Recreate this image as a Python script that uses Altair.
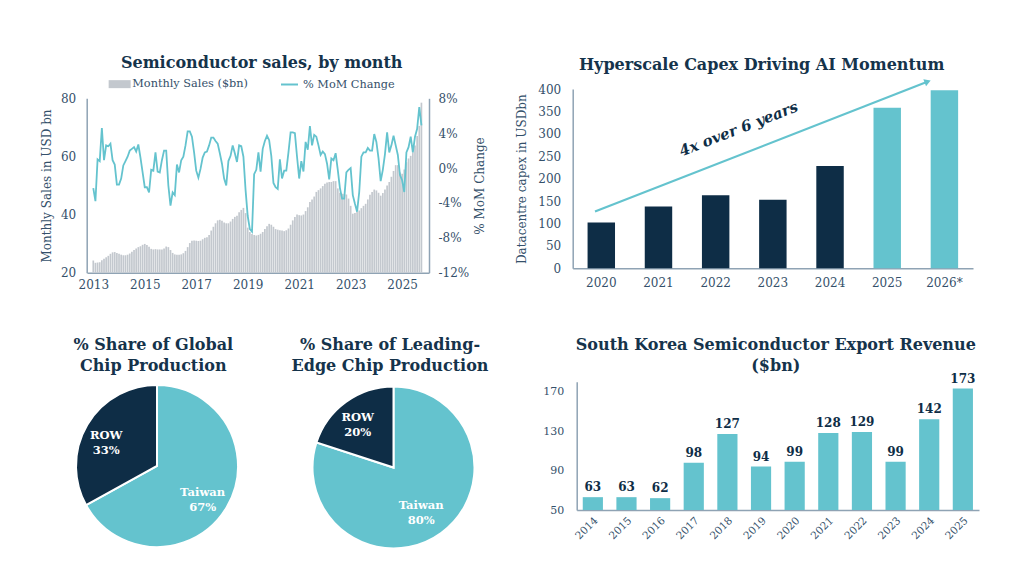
import altair as alt
import pandas as pd

# ---------------- data ----------------
monthly_sales = [
    24.2, 23.4, 23.5, 23.6, 24.3, 24.8, 25.3, 25.8, 26.5, 27.0,
    27.1, 26.8, 26.5, 26.2, 26.0, 26.0, 26.2, 26.6, 27.2, 27.8,
    28.3, 28.8, 29.1, 29.6, 29.9, 29.5, 28.9, 28.2, 28.0, 28.1,
    28.0, 28.0, 28.0, 28.3, 29.0, 28.8, 27.8, 26.8, 26.3, 26.2,
    26.2, 26.3, 26.7, 27.5, 28.8, 30.2, 31.0, 31.1, 31.0, 30.9,
    31.0, 31.5, 32.0, 32.2,
    33.0, 34.5, 35.8, 37.0, 38.0, 38.2, 37.9, 37.3, 37.0, 37.0,
    37.6, 38.5, 39.2, 39.6, 40.8, 41.6, 42.3, 40.5, 35.5, 34.0,
    33.3, 33.0, 32.8, 33.0, 33.4, 34.0, 35.0, 36.0, 36.8, 36.5,
    35.8, 35.0, 34.8, 34.6, 34.5, 34.3, 34.6, 35.2, 36.5, 38.0,
    39.2, 40.0, 39.8, 39.7, 40.0, 41.2, 42.5, 44.3, 45.2, 46.2,
    47.8, 48.4, 49.0, 49.8, 50.6, 51.0, 51.2, 51.2, 51.5, 51.5,
    49.0, 47.5, 47.2, 47.1, 46.9, 45.5, 43.0, 40.3, 40.5, 40.9,
    41.4, 42.2, 43.0, 43.7, 45.2, 46.8, 47.8, 48.6, 48.3, 47.5,
    46.5, 47.4, 48.6, 50.0, 51.2, 53.0, 55.0, 57.0, 57.0, 54.5,
    54.0, 55.5, 58.0, 59.3, 60.2, 61.4, 63.8, 67.0, 70.5, 78.5,
]
mom_change_pct = [
    -2.3, -3.8, 1.0, 0.8, 4.6, 0.9, 2.6, 2.5, 2.8, 0.9,
    0.4, -1.9, -1.9, -1.2, 0.3, 0.8, 1.3, 2.0, 2.2, 2.4,
    1.9, 2.7, 1.2, -0.5, -2.2, -2.2, -2.8, -0.2, -0.3, 1.8,
    -0.4, -0.5, 0.9, 2.0, 2.0, -2.0, -4.3, -2.8, -3.1, 0.4,
    -0.5, 0.9, 1.3, 2.6, 4.2, 4.2, 3.6, 1.8, -0.3, -1.1,
    -0.1, 1.2, 1.8, 1.9,
    2.6, 3.5, 3.5, 3.1, 2.8, 1.7, 0.5, -1.2, -2.0, 0.8,
    1.4, 2.6, 1.7, 0.7, 2.6, 2.5, 1.3, -2.5, -5.5, -7.0,
    -7.3, -0.7, -0.2, 1.8, -0.4, 2.2, 3.1, 3.7, 3.2, 1.4,
    -1.7, -2.2, -2.4, 1.0, -1.2, -0.3, -0.3, 1.8, 4.1, 4.1,
    4.0, 1.3, -1.2, 0.8, -0.4, 3.0, 2.1, 4.8, 2.6, 3.8,
    3.6, 2.6, 1.5, 1.9, 1.6, 0.5, -1.3, 1.1, 0.9, 1.7,
    -0.2, -2.3, -3.5, -3.5, -0.5, -0.2, 0.0, -3.1, -4.1, -5.0,
    -2.75, 1.3, 1.8, 1.8, 2.3, 2.0, 2.0, 3.9, 3.0, 1.1,
    -1.5, -0.2, 1.6, 4.1, 1.8, 2.6, 3.7, 2.6, 1.5, -0.8,
    -1.4, -2.75, 1.8, 2.4, 3.6, 1.8, 3.6, 4.5, 7.0, 4.9,
]
first_year = 2013
year_ticks = [2013, 2015, 2017, 2019, 2021, 2023, 2025]

capex_years = ["2020", "2021", "2022", "2023", "2024", "2025", "2026*"]
capex_usd_bn = [102, 138, 163, 153, 228, 358, 397]
capex_phase = ["Actual", "Actual", "Actual", "Actual", "Actual", "Estimate", "Estimate"]
capex_ticks = [0, 50, 100, 150, 200, 250, 300, 350, 400]
# trend arrow annotation (band index units, USDbn)
arrow_from = [0.39, 126.5]
arrow_to = [6.19, 415.6]
arrow_label = "4x over 6 years"
arrow_label_at = [2.9, 311]

pie_regions = ["Taiwan", "ROW"]
global_share = [67, 33]
leading_edge_share = [80, 20]

korea_years = [str(y) for y in range(2014, 2026)]
korea_export_bn = [63, 63, 62, 98, 127, 94, 99, 128, 129, 99, 142, 173]
korea_ticks = [50, 90, 130, 170]

# ---------------- style ----------------
FONT = "DejaVu Serif"
NAVY = "#0e2d46"
TEAL = "#64c3ce"
GRAY = "#c3c8ce"
TITLE = "#15334b"
LBL = "#34506a"
AXC = "#8fa3b4"

W, H = 1008, 560
M = 8  # page margin


def px(x):
    return x - M


def py(y):
    return y - M


def ax(**kw):
    base = dict(domainColor=AXC, domainWidth=1.5, ticks=False, grid=False,
                labelFont=FONT, labelColor=LBL, labelFontSize=12,
                titleFont=FONT, titleColor=LBL, titleFontSize=12,
                titleFontWeight="normal", labelFlush=False, labelOverlap=False)
    base.update(kw)
    return alt.Axis(**base)


# ---------------- top-left: monthly sales ----------------
ts = pd.DataFrame({
    "t": [first_year + i / 12 for i in range(len(monthly_sales))],
    "sales": monthly_sales,
    "mom": mom_change_pct,
})
x_ts = alt.X("t:Q",
             scale=alt.Scale(domain=[2012.95, 2025.85], range=[px(87), px(429)], nice=False, zero=False),
             axis=ax(orient="bottom", offset=py(272.7) - H, values=year_ticks, format="d",
                     title=None, labelPadding=7))
tl_bars = alt.Chart(ts).transform_calculate(series="'Monthly Sales ($bn)'").mark_bar(width=1.7).encode(
    x=x_ts,
    y=alt.Y("sales:Q",
            scale=alt.Scale(domain=[20, 80], range=[py(272.7), py(98.3)], nice=False, zero=False),
            axis=ax(orient="left", offset=-px(86.7), values=[20, 40, 60, 80],
                    title="Monthly Sales in USD bn", labelPadding=11, titlePadding=7)),
    y2=alt.datum(20),
    fill=alt.Fill("series:N", scale=alt.Scale(domain=["Monthly Sales ($bn)"], range=[GRAY]),
                  legend=alt.Legend(orient="none", legendX=106, legendY=70.5, title=None,
                                    direction="horizontal",
                                    symbolType="M-2.2,-0.8H2.2V0.8H-2.2Z", symbolSize=100,
                                    symbolStrokeWidth=0, labelOffset=7,
                                    labelFont=FONT, labelFontSize=11.3, labelColor=LBL)),
)
tl_line = alt.Chart(ts).transform_calculate(series2="'% MoM Change'").mark_line(strokeWidth=1.8).encode(
    x=x_ts,
    y=alt.Y("mom:Q",
            scale=alt.Scale(domain=[-12, 8], range=[py(272.7), py(98.3)], nice=False, zero=False),
            axis=ax(orient="right", offset=px(429) - W, values=[-12, -8, -4, 0, 4, 8],
                    labelExpr="datum.value + '%'", title="% MoM Change", titleAngle=270,
                    labelPadding=9, titlePadding=18)),
    stroke=alt.Stroke("series2:N", scale=alt.Scale(domain=["% MoM Change"], range=[TEAL]),
                      legend=alt.Legend(orient="none", legendX=272, legendY=67, title=None,
                                        direction="horizontal", symbolType="stroke",
                                        symbolSize=289, symbolStrokeWidth=2, labelOffset=4,
                                        labelFont=FONT, labelFontSize=11.3, labelColor=LBL)),
)
tl = alt.layer(tl_bars, tl_line).resolve_scale(y="independent").resolve_axis(y="independent")

# ---------------- top-right: capex ----------------
cap = pd.DataFrame({"year": capex_years, "capex": capex_usd_bn, "phase": capex_phase})
cap_y_scale = alt.Scale(domain=[0, 400], range=[py(268.3), py(89)], nice=False)
tr = alt.Chart(cap).mark_bar().encode(
    x=alt.X("year:N", sort=None,
            scale=alt.Scale(range=[px(572.7), px(973)], paddingInner=0.52, paddingOuter=0.26),
            axis=ax(orient="bottom", offset=py(268.3) - H, labelAngle=0, title=None, labelPadding=9)),
    y=alt.Y("capex:Q", scale=cap_y_scale,
            axis=ax(orient="left", offset=-px(572.7), values=capex_ticks,
                    title="Datacentre capex in USDbn", labelPadding=12, titlePadding=9)),
    color=alt.Color("phase:N", scale=alt.Scale(domain=["Actual", "Estimate"], range=[NAVY, TEAL]),
                    legend=None),
)

arrow_df = pd.DataFrame({"x0": [arrow_from[0]], "y0": [arrow_from[1]],
                         "x1": [arrow_to[0]], "y1": [arrow_to[1]]})
aq_x = alt.Scale(domain=[0, 7], range=[px(572.7), px(973)], nice=False, zero=False)
aq_y = alt.Scale(domain=[0, 400], range=[py(268.3), py(89)], nice=False)
arrow_line = alt.Chart(arrow_df).mark_rule(color=TEAL, strokeWidth=2.2).encode(
    x=alt.X("x0:Q", scale=aq_x, axis=None), y=alt.Y("y0:Q", scale=aq_y, axis=None),
    x2="x1:Q", y2="y1:Q")
arrow_head = alt.Chart(arrow_df).mark_point(shape="triangle", filled=True, color=TEAL, size=55,
                                            angle=68.7, opacity=1).encode(
    x=alt.X("x1:Q", scale=aq_x, axis=None), y=alt.Y("y1:Q", scale=aq_y, axis=None))
arrow_txt = alt.Chart(pd.DataFrame({"x": [arrow_label_at[0]], "y": [arrow_label_at[1]],
                                    "t": [arrow_label]})).mark_text(
    angle=338.7, font=FONT, fontStyle="italic", fontWeight="bold", fontSize=15, color=NAVY).encode(
    x=alt.X("x:Q", scale=aq_x, axis=None), y=alt.Y("y:Q", scale=aq_y, axis=None), text="t:N")
arrow = alt.layer(arrow_line, arrow_head, arrow_txt)


# ---------------- pies ----------------
def pie(shares, cx, cy, r_taiwan, r_row):
    df = pd.DataFrame({"region": pie_regions, "share": shares, "ord": [0, 1]})
    arc = alt.Chart(df).mark_arc(outerRadius=81, stroke="white", strokeWidth=2).encode(
        theta=alt.Theta("share:Q", stack=True),
        order=alt.Order("ord:Q"),
        color=alt.Color("region:N", scale=alt.Scale(domain=pie_regions, range=[TEAL, NAVY]),
                        legend=None),
        x=alt.value(px(cx)), y=alt.value(py(cy)))
    txt = alt.Chart(df).transform_window(
        cum="sum(share)", sort=[alt.SortField("ord", order="ascending")], frame=[None, 0],
    ).transform_calculate(
        mid="datum.cum - datum.share / 2",
        lab="datum.region + '\\n' + datum.share + '%'",
        rr=f"datum.region == 'ROW' ? {r_row} : {r_taiwan}",
    ).mark_text(lineBreak="\n", font=FONT, fontWeight="bold", fontSize=11.5, color="white",
                lineHeight=15).encode(
        theta=alt.Theta("mid:Q"),
        text="lab:N", radius=alt.Radius("rr:Q", scale=None),
        x=alt.value(px(cx)), y=alt.value(py(cy)))
    return alt.layer(arc, txt)


pie1 = pie(global_share, 157, 466, 53, 59)
pie2 = pie(leading_edge_share, 393.5, 467.5, 47, 61)

# ---------------- bottom-right: Korea exports ----------------
kor = pd.DataFrame({"year": korea_years, "rev": korea_export_bn})
xk = alt.X("year:N", sort=None,
           scale=alt.Scale(range=[px(576.7), px(979)], paddingInner=0.4, paddingOuter=0.18),
           axis=ax(orient="bottom", offset=py(510) - H, labelAngle=315, title=None,
                   labelFontSize=10.5, labelPadding=5))
yk = alt.Y("rev:Q", scale=alt.Scale(domain=[50, 180], range=[py(510), py(381.7)], nice=False, zero=False),
           axis=ax(orient="left", offset=-px(576.7), values=korea_ticks, title=None,
                   labelFontSize=11, labelPadding=13))
br_bars = alt.Chart(kor).mark_bar(color=TEAL).encode(x=xk, y=yk, y2=alt.datum(50))
br_txt = alt.Chart(kor).mark_text(dy=-10, font=FONT, fontWeight="bold", fontSize=12,
                                  color=NAVY).encode(x=xk, y=yk, text="rev:Q")
br = alt.layer(br_bars, br_txt)


# ---------------- titles ----------------
def title(text, cx, cy):
    return alt.Chart(pd.DataFrame({"t": [text]})).mark_text(
        font=FONT, fontWeight="bold", fontSize=16, color=TITLE, lineBreak="\n",
        lineHeight=21, align="center", baseline="middle").encode(
        text="t:N", x=alt.value(px(cx)), y=alt.value(py(cy)))


titles = [
    title("Semiconductor sales, by month", 261.7, 63.3),
    title("Hyperscale Capex Driving AI Momentum", 761.7, 65),
    title("% Share of Global\nChip Production", 153.3, 345),
    title("% Share of Leading-\nEdge Chip Production", 390, 345),
    title("South Korea Semiconductor Export Revenue\n($bn)", 775.8, 345),
]

chart = alt.layer(tl, tr, arrow, pie1, pie2, br, *titles).resolve_scale(
    x="independent", y="independent", color="independent", theta="independent",
    fill="independent", stroke="independent",
).resolve_axis(x="independent", y="independent").resolve_legend(
    fill="independent", stroke="independent", color="independent",
).properties(
    width=W, height=H, autosize=alt.AutoSizeParams(type="none"), padding=0,
).configure_view(stroke=None)

chart.save("out.html", embed_options={"renderer": "svg", "actions": False})
